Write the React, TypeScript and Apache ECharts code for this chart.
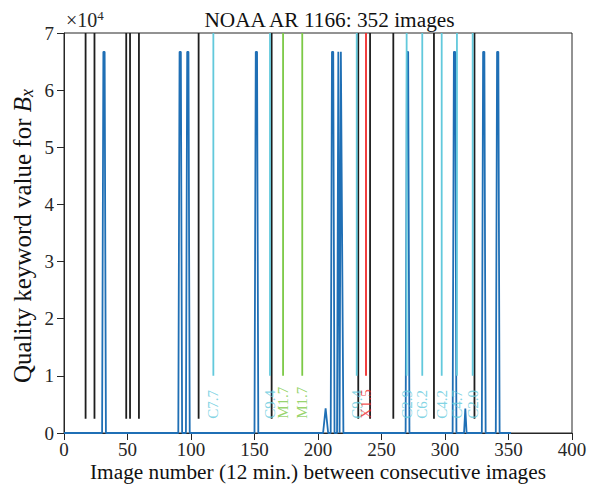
import React, { useEffect, useRef } from "react";
import * as echarts from "echarts";

const SERIF = "Liberation Serif";

const titleText = "NOAA AR 1166: 352 images";
const xAxisTitle = "Image number (12 min.) between consecutive images";
const yAxisTitle = "Quality keyword value for ";
const yAxisSymbol = "B";
const yAxisSub = "x";
const yExponent = "4";

const xTicks = [0, 50, 100, 150, 200, 250, 300, 350, 400];
const yTicks = [0, 10000, 20000, 30000, 40000, 50000, 60000, 70000];
const yTickLabels = ["0", "1", "2", "3", "4", "5", "6", "7"];

// Quality keyword value of B_x vs. image number (zero baseline with spikes)
const qualityPoints: [number, number][] = [
  [0, 0], [30, 0], [31, 66700], [32, 66700], [33, 0],
  [90, 0], [91, 66700], [92, 66700], [93, 0],
  [96, 0], [97, 66700], [98, 66700], [99, 0],
  [150, 0], [151, 66700], [152, 66700], [153, 0],
  [204, 0], [206, 4300], [208, 0],
  [210, 0], [211, 66700], [212, 66700], [213, 0],
  [215, 0], [216, 66700], [217, 0], [218, 66700], [220, 0],
  [269, 0], [270, 66700], [271, 66700], [272, 0],
  [306, 0], [307, 66700], [308, 66700], [309, 0],
  [315, 0], [316, 4300], [317, 0],
  [329, 0], [330, 66700], [331, 66700], [332, 0],
  [340, 0], [341, 66700], [342, 66700], [343, 0],
  [352, 0],
];

// unlabelled (black) event markers
const blackLineX = [17, 24, 49, 52, 59, 106, 163.5, 231.7, 241, 259.3, 291.3, 323.2];
const blackLineRange = [2500, 70000];

// labelled flare markers
const flareX = [117.6, 162.2, 172.5, 187.6, 230.5, 237.8, 269.8, 282.1, 297.4, 309.4, 321.8];
const flareNames = ["C7.7", "C9.4", "M1.7", "M1.7", "C9.4", "X1.5", "C2.9", "C6.2", "C4.2", "C4.7", "C2.0"];
const flareLineRange = [10000, 70000];
const flareLabelY = 2500;

const classColors: Record<string, string> = {
  C: "#62c9dc",
  M: "#7cc946",
  X: "#f02a2a",
};

const BLUE = "#1f6fb5";
const BLACK = "#1e1e1e";
const AXIS = "#262626";

export default function App() {
  const ref = useRef<HTMLDivElement>(null);

  useEffect(() => {
    if (!ref.current) return;
    const chart = echarts.init(ref.current, null, { renderer: "svg" });

    const series: any[] = [];

    series.push({
      type: "line",
      data: qualityPoints,
      symbol: "none",
      clip: false,
      silent: true,
      z: 2,
      lineStyle: { color: BLUE, width: 1.8 },
    });

    blackLineX.forEach((x) => {
      series.push({
        type: "line",
        data: [[x, blackLineRange[0]], [x, blackLineRange[1]]],
        symbol: "none",
        silent: true,
        z: 3,
        lineStyle: { color: BLACK, width: 1.8 },
      });
    });

    flareX.forEach((x, i) => {
      const color = classColors[flareNames[i].charAt(0)];
      series.push({
        type: "line",
        data: [[x, flareLineRange[0]], [x, flareLineRange[1]]],
        symbol: "none",
        silent: true,
        z: 3,
        lineStyle: { color, width: 1.8 },
      });
    });

    series.push({
      type: "scatter",
      symbolSize: 0,
      silent: true,
      z: 4,
      data: flareX.map((x, i) => ({
        value: [x, flareLabelY],
        name: flareNames[i],
        label: { color: classColors[flareNames[i].charAt(0)] },
      })),
      label: {
        show: true,
        position: "inside",
        rotate: 90,
        align: "left",
        verticalAlign: "middle",
        formatter: (p: any) => p.name,
        fontFamily: SERIF,
        fontSize: 15,
      },
    });

    const option: any = {
      animation: false,
      backgroundColor: "#ffffff",
      textStyle: { fontFamily: SERIF },
      grid: {
        left: 64,
        right: 23,
        top: 33,
        bottom: 63,
        show: true,
        borderColor: AXIS,
        borderWidth: 1,
        backgroundColor: "transparent",
        outerBoundsMode: "none",
      },
      xAxis: {
        type: "value",
        min: xTicks[0],
        max: xTicks[xTicks.length - 1],
        interval: xTicks[1] - xTicks[0],
        axisLine: { show: true, onZero: false, lineStyle: { color: AXIS, width: 1 } },
        axisTick: { show: true, inside: false, length: 7, lineStyle: { color: AXIS } },
        axisLabel: { show: false },
        splitLine: { show: false },
      },
      yAxis: {
        type: "value",
        min: yTicks[0],
        max: yTicks[yTicks.length - 1],
        interval: yTicks[1] - yTicks[0],
        axisLine: { show: true, onZero: false, lineStyle: { color: AXIS, width: 1 } },
        axisTick: { show: true, inside: false, length: 7, lineStyle: { color: AXIS } },
        axisLabel: { show: false },
        splitLine: { show: false },
      },
      series,
    };

    chart.setOption(option);

    // tick labels placed through the chart's own scales
    const tickGraphics: any[] = [];
    xTicks.forEach((v) => {
      const p = chart.convertToPixel({ gridIndex: 0 }, [v, 0]) as number[];
      tickGraphics.push({
        type: "text",
        x: p[0],
        y: p[1] + 16,
        silent: true,
        style: {
          text: String(v),
          fontFamily: SERIF,
          fontSize: 19,
          fill: AXIS,
          align: "center",
          verticalAlign: "middle",
        },
      });
    });
    yTicks.forEach((v, i) => {
      const p = chart.convertToPixel({ gridIndex: 0 }, [0, v]) as number[];
      tickGraphics.push({
        type: "text",
        x: p[0] - 10,
        y: p[1],
        silent: true,
        style: {
          text: yTickLabels[i],
          fontFamily: SERIF,
          fontSize: 19,
          fill: AXIS,
          align: "right",
          verticalAlign: "middle",
        },
      });
    });

    chart.setOption({
      graphic: [
        ...tickGraphics,
        {
          type: "text",
          x: 329.5,
          y: 20,
          silent: true,
          style: {
            text: titleText,
            fontFamily: SERIF,
            fontSize: 21.3,
            fill: "#111",
            align: "center",
            verticalAlign: "middle",
          },
        },
        {
          type: "text",
          x: 66,
          y: 20,
          silent: true,
          style: {
            text: "{a|×10}{b|" + yExponent + "}",
            align: "left",
            verticalAlign: "middle",
            fill: AXIS,
            rich: {
              a: { fontFamily: SERIF, fontSize: 20, fill: AXIS },
              b: { fontFamily: SERIF, fontSize: 13, fill: AXIS, padding: [0, 0, 10, 0] },
            },
          },
        },
        {
          type: "text",
          x: 318,
          y: 472,
          silent: true,
          style: {
            text: xAxisTitle,
            fontFamily: SERIF,
            fontSize: 21.3,
            fill: "#111",
            align: "center",
            verticalAlign: "middle",
          },
        },
        {
          type: "text",
          x: 22,
          y: 236,
          rotation: Math.PI / 2,
          silent: true,
          style: {
            text: "{a|" + yAxisTitle + "}{b|" + yAxisSymbol + "}{c|" + yAxisSub + "}",
            align: "center",
            verticalAlign: "middle",
            fill: "#111",
            rich: {
              a: { fontFamily: SERIF, fontSize: 25, fill: "#111" },
              b: { fontFamily: SERIF, fontSize: 25, fontStyle: "italic", fill: "#111" },
              c: { fontFamily: SERIF, fontSize: 18, fontStyle: "italic", fill: "#111", padding: [10, 0, 0, 0] },
            },
          },
        },
      ],
    });

    return () => chart.dispose();
  }, []);

  return (
    <div
      ref={ref}
      style={{ position: "absolute", left: 0, top: 0, width: 595, height: 496 }}
    />
  );
}
